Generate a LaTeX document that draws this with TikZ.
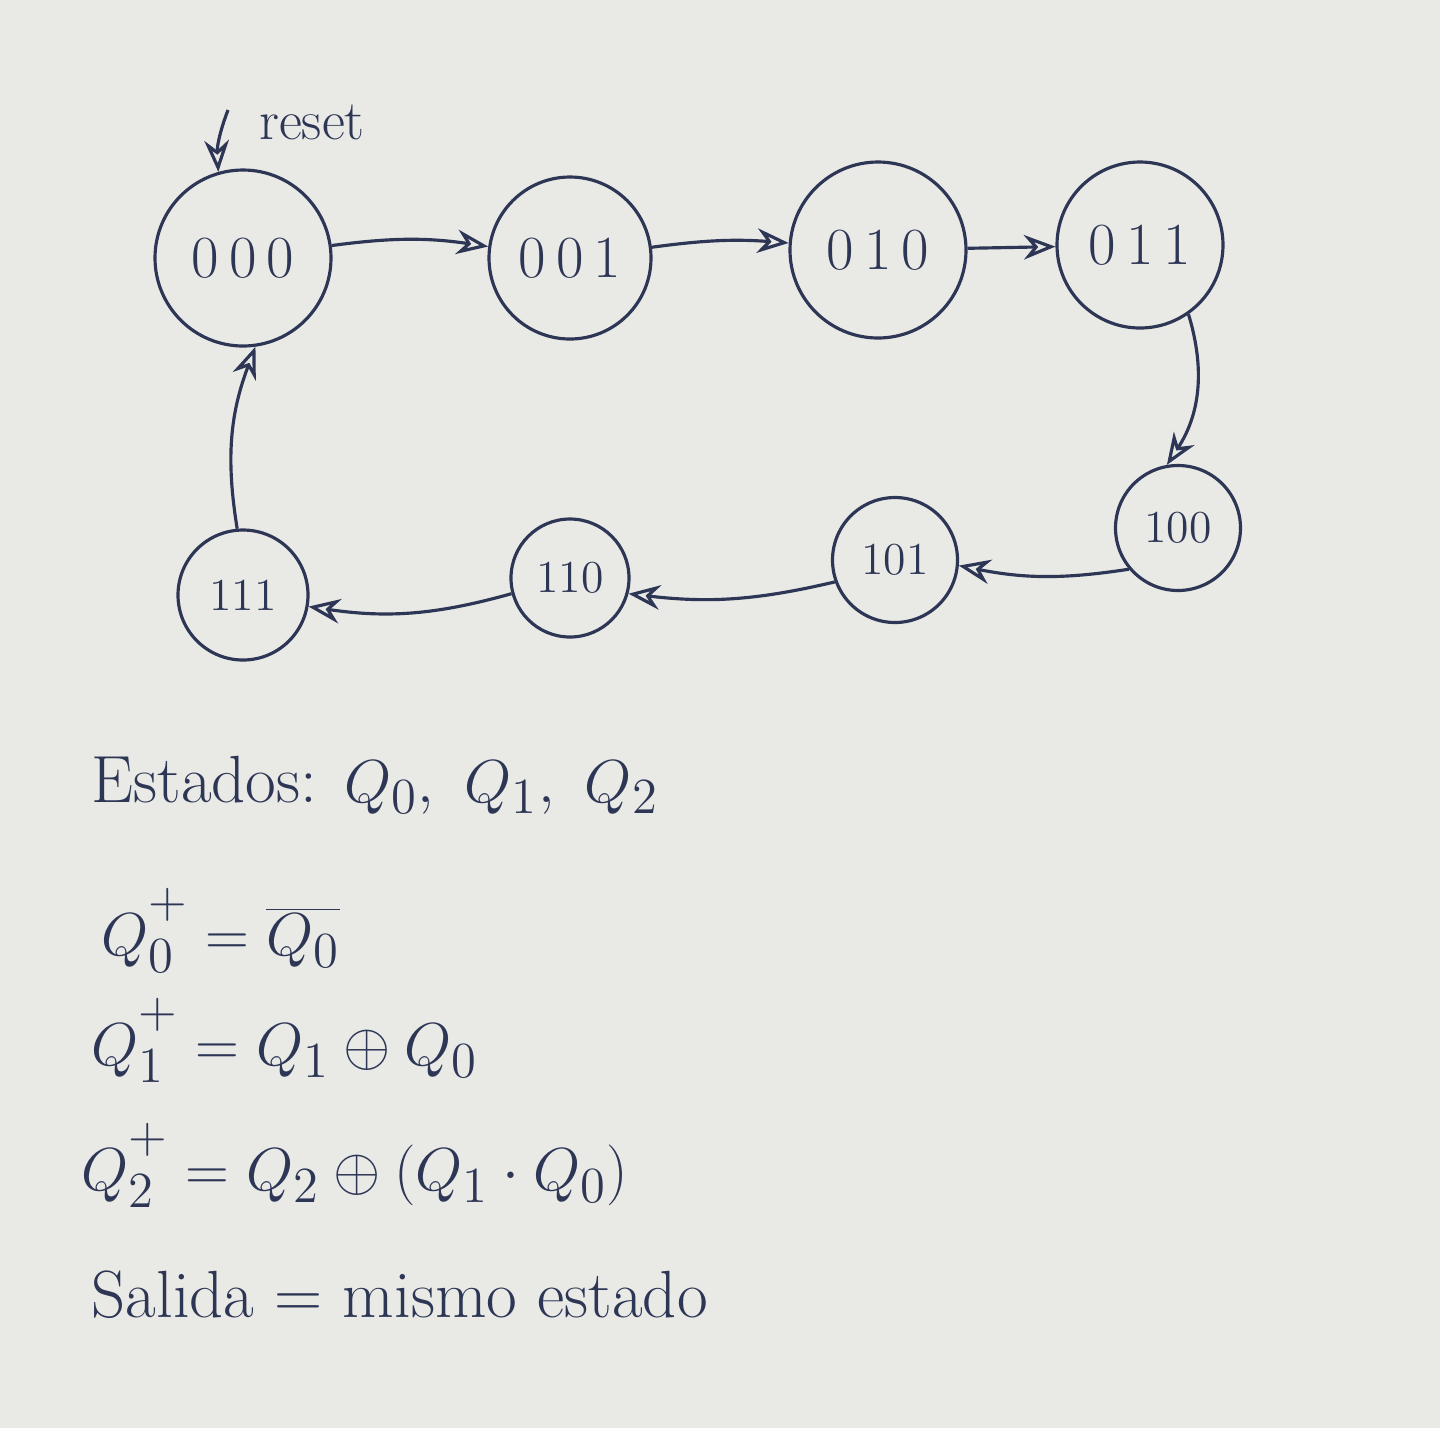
\documentclass[tikz,border=0pt]{standalone}
\usetikzlibrary{arrows.meta}
\definecolor{ink}{HTML}{2E3656}
\definecolor{paper}{HTML}{E9EAE6}
\newcommand{\nxt}{^{\raisebox{0.25em}{$\scriptstyle +$}}}
\begin{document}
\begin{tikzpicture}[->,
					>={Stealth[length=9pt,width=7pt,open]},
					line width=0.9pt,
					draw=ink,
					text=ink,
					main node/.style={circle,draw,font=\fontsize{17}{20}\selectfont},
					small node/.style={circle,draw,font=\fontsize{13}{16}\selectfont},
					eq/.style={anchor=west,inner sep=0pt,font=\fontsize{19}{22}\selectfont}]

  \fill[paper,draw=none] (0,0) rectangle (14.4,-14.28);
  \useasboundingbox (0,0) rectangle (14.4,-14.28);

  % upper row
  \node[main node,minimum size=1.76cm] (S000) at (2.43,-2.58) {0\,0\,0};
  \node[main node,minimum size=1.62cm] (S001) at (5.70,-2.58) {0\,0\,1};
  \node[main node,minimum size=1.76cm] (S010) at (8.78,-2.50) {0\,1\,0};
  \node[main node,minimum size=1.66cm] (S011) at (11.40,-2.45) {0\,1\,1};
  % lower row
  \node[small node,minimum size=1.25cm] (S100) at (11.78,-5.28) {100};
  \node[small node,minimum size=1.25cm] (S101) at (8.95,-5.60) {101};
  \node[small node,minimum size=1.18cm] (S110) at (5.70,-5.78) {110};
  \node[small node,minimum size=1.30cm] (S111) at (2.43,-5.95) {111};

  % reset
  \coordinate (R) at (2.28,-1.10);
  \node[font=\fontsize{16}{19}\selectfont] (reset) at (3.12,-1.22) {reset};
  \draw (R) to[bend right=12] (S000.106);

  \path
    (S000) edge[bend left=8] (S001)
    (S001) edge[bend left=6] (S010)
    (S010) edge (S011)
    (S011.-55) edge[bend left=25] (S100.100)
    (S100.-140) edge[bend left=10] (S101.-5)
    (S101.-160) edge[bend left=10] (S110.-15)
    (S110.-165) edge[bend left=12] (S111.-10)
    (S111.95) edge[bend left=15] (S000.-82);

  % equations
  \node[eq] (est) at (0.90,-7.85) {Estados: $Q_0,\ Q_1,\ Q_2$};
  \node[eq] (q0) at (1.00,-9.30) {$Q_0\nxt = \overline{Q_0}$};
  \node[eq] (q1) at (0.90,-10.40) {$Q_1\nxt = Q_1 \oplus Q_0$};
  \node[eq] (q2) at (0.80,-11.65) {$Q_2\nxt = Q_2 \oplus (Q_1 \cdot Q_0)$};
  \node[eq] (out) at (0.90,-12.95) {Salida = mismo estado};
\end{tikzpicture}
\end{document}
